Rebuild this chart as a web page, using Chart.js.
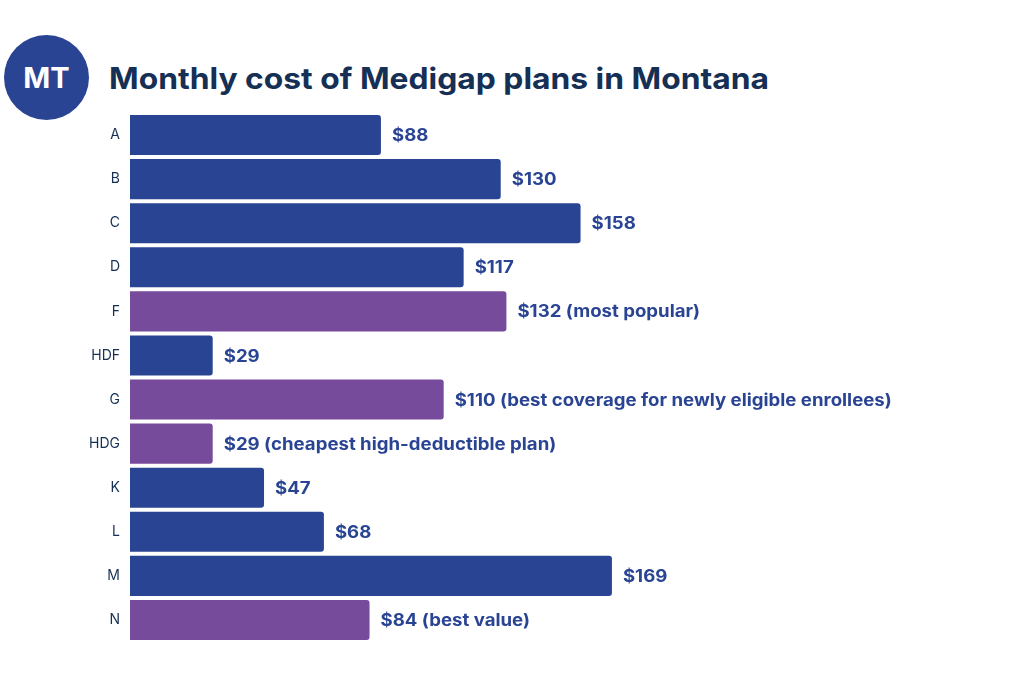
<!DOCTYPE html>
<html>
<head>
<meta charset="utf-8">
<style>
  html, body { margin: 0; padding: 0; background: #fff; }
  #wrap { position: relative; width: 1024px; height: 676px; overflow: hidden; }
  #grafico { position: absolute; left: 0; top: 0; }
  #badge {
    position: absolute; left: 4px; top: 35px; width: 85px; height: 85px; border-radius: 50%;
    background: #2a4494; color: #fff; font: 700 29px Inter, "Open Sans", sans-serif;
    display: flex; align-items: center; justify-content: center;
  }
  #titulo {
    position: absolute; left: 109px; top: 60px; margin: 0; color: #152f55;
    font: 700 29.5px Inter, "Open Sans", sans-serif; white-space: nowrap;
    transform: scaleX(1.078); transform-origin: left center;
  }
</style>
</head>
<body>
<div id="wrap">
  <div id="badge">MT</div>
  <h1 id="titulo">Monthly cost of Medigap plans in Montana</h1>
  <canvas id="grafico" width="1024" height="676"></canvas>
</div>
<script src="https://cdn.jsdelivr.net/npm/chart.js@4/dist/chart.umd.min.js"></script>
<script>
const planes = ['A', 'B', 'C', 'D', 'F', 'HDF', 'G', 'HDG', 'K', 'L', 'M', 'N'];
const costos = [88, 130, 158, 117, 132, 29, 110, 29, 47, 68, 169, 84];
const notas = ['', '', '', '', ' (most popular)', '', ' (best coverage for newly eligible enrollees)',
               ' (cheapest high-deductible plan)', '', '', '', ' (best value)'];
const destacados = ['F', 'G', 'HDG', 'N'];

const azul = '#2a4494';
const morado = '#774b9b';

// etiquetas al final de cada barra, un poco mas anchas como en la original
const etiquetasBarras = {
    id: 'etiquetasBarras',
    afterDatasetsDraw(chart) {
        const c = chart.ctx;
        const meta = chart.getDatasetMeta(0);
        c.save();
        c.fillStyle = azul;
        c.font = '700 17px Inter, "Open Sans", sans-serif';
        c.textBaseline = 'middle';
        meta.data.forEach((barra, i) => {
            c.save();
            c.translate(barra.x + 11, barra.y + 1);
            c.scale(1.095, 1);
            c.fillText('$' + costos[i] + notas[i], 0, 0);
            c.restore();
        });
        c.restore();
    }
};

new Chart(document.getElementById('grafico').getContext('2d'), {
    type: 'bar',
    data: {
        labels: planes,
        datasets: [{
            data: costos,
            backgroundColor: planes.map(p => destacados.includes(p) ? morado : azul),
            borderRadius: { topLeft: 0, bottomLeft: 0, topRight: 3, bottomRight: 3 },
            borderSkipped: false,
            barPercentage: 0.91,
            categoryPercentage: 1
        }]
    },
    options: {
        indexAxis: 'y',
        responsive: false,
        animation: false,
        layout: { padding: { left: 0, right: 0, top: 113, bottom: 34 } },
        plugins: { legend: { display: false }, tooltip: { enabled: false } },
        scales: {
            x: { display: false, min: 0, max: 313.5 },
            y: {
                grid: { display: false },
                border: { display: false },
                afterFit(escala) { escala.width = 130; },
                ticks: { color: '#152f55', font: { size: 14, family: 'Inter, "Open Sans", sans-serif' }, padding: 2 }
            }
        }
    },
    plugins: [etiquetasBarras]
});
</script>
</body>
</html>
